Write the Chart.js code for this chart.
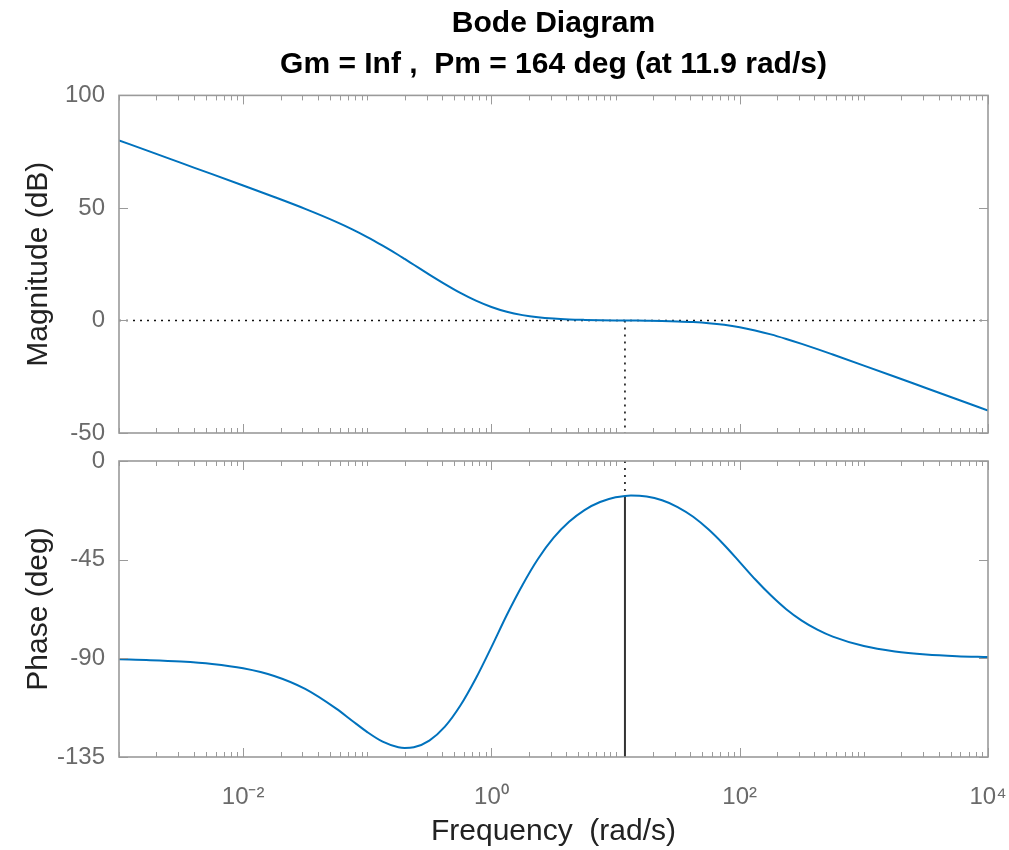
<!DOCTYPE html>
<html>
<head>
<meta charset="utf-8">
<script src="https://cdn.jsdelivr.net/npm/chart.js@4.4.1/dist/chart.umd.min.js"></script>
<style>
  html, body { margin: 0; padding: 0; background: #ffffff; }
  #wrap { position: relative; width: 1009px; height: 850px; background: #ffffff; }
  #c1 { position: absolute; left: 0; top: 0; }
  #c2 { position: absolute; left: 0; top: 440px; }
</style>
</head>
<body>
<div id="wrap">
  <canvas id="c1" width="1009" height="460"></canvas>
  <canvas id="c2" width="1009" height="410"></canvas>
</div>
<script>
// ---------- data ----------
const freq = [0.001, 0.00178, 0.00316, 0.00562, 0.01, 0.0178, 0.0316, 0.0562, 0.075, 0.1,
  0.133, 0.178, 0.2, 0.237, 0.316, 0.422, 0.562, 0.75, 1, 1.33, 1.78, 2.37, 3.16, 4.22, 5.62,
  7.5, 10, 11.9, 13.3, 17.8, 23.7, 31.6, 42.2, 56.2, 75, 100, 133, 178, 237, 316, 422, 562,
  1000, 1780, 3160, 5620, 10000];
const magDb = [80.0, 75.0, 70.0, 65.0, 59.96, 54.87, 49.59, 43.83, 40.61, 37.08,
  33.22, 29.08, 27.33, 24.76, 20.41, 16.18, 12.25, 8.80, 5.98, 3.85, 2.37, 1.41, 0.82, 0.46, 0.26,
  0.13, 0.04, 0.0, -0.03, -0.11, -0.22, -0.41, -0.71, -1.19, -1.94, -3.01, -4.44, -6.19, -8.21, -10.41, -12.74, -15.14,
  -20.04, -25.01, -30.0, -35.0, -40.0];
const phaseDeg = [-90.46, -90.82, -91.45, -92.58, -94.57, -98.05, -103.95, -112.95, -118.33, -123.64,
  -128.02, -130.57, -130.92, -130.59, -127.53, -121.17, -111.54, -99.09, -84.86, -70.21, -56.52, -44.69, -35.10, -27.74, -22.37,
  -18.72, -16.56, -15.92, -15.75, -16.20, -17.93, -20.99, -25.45, -31.29, -38.31, -46.09, -53.95, -61.25, -67.59, -72.79, -76.92, -80.11,
  -84.40, -86.84, -88.22, -89.00, -89.44];

const freqRange = [0.001, 10000];
const magRange = [-50, 100];
const phaseRange = [-135, 0];
const xLabelTicks = [0.01, 1, 100, 10000];
const xTickLabels = ['10\u207B\u00B2', '10\u2070', '10\u00B2', '10\u2074'];
const magTicks = [-50, 0, 50, 100];
const phaseTicks = [-135, -90, -45, 0];

const crossFreq = [11.9];          // gain crossover (rad/s)
const zeroDbLine = [0, 0];         // 0 dB reference
const pmPhase = [-15.92];          // phase at crossover

const titleLines = ['Bode Diagram', 'Gm = Inf ,  Pm = 164 deg (at 11.9 rad/s)'];
const xTitle = 'Frequency  (rad/s)';
const magTitle = 'Magnitude (dB)';
const phaseTitle = 'Phase (deg)';

// ---------- styles ----------
const FONT = "'Liberation Sans', Arial, Helvetica, sans-serif";
const BLUE = '#0072BD';
const FRAME = '#9a9a9a';
const TICKTXT = '#6a6a6a';
const LABELTXT = '#222222';

// inward MATLAB-style ticks and full box, positions from Chart.js scales
const boxTicks = {
  id: 'boxTicks',
  afterDatasetsDraw(chart, args, opts) {
    const {ctx, chartArea: a, scales} = chart;
    const xs = scales.x, ys = scales.y;
    ctx.save();
    ctx.strokeStyle = FRAME;
    ctx.lineWidth = 1;
    ctx.beginPath();
    for (let d = -3; d <= 4; d++) {
      for (let m = 1; m <= 9; m++) {
        const v = m * Math.pow(10, d);
        if (v < freqRange[0] * 0.999 || v > freqRange[1] * 1.001) continue;
        const px = Math.round(xs.getPixelForValue(v)) + 0.5;
        const major = (m === 1 && xLabelTicks.some(t => Math.abs(t - v) / t < 1e-6));
        const len = major ? 9 : 5;
        ctx.moveTo(px, a.top); ctx.lineTo(px, a.top + len);
        ctx.moveTo(px, a.bottom); ctx.lineTo(px, a.bottom - len);
      }
    }
    (opts.yTicks || []).forEach(v => {
      const py = Math.round(ys.getPixelForValue(v)) + 0.5;
      ctx.moveTo(a.left, py); ctx.lineTo(a.left + 9, py);
      ctx.moveTo(a.right, py); ctx.lineTo(a.right - 9, py);
    });
    ctx.stroke();
    ctx.lineWidth = 1.6;
    ctx.strokeRect(a.left, a.top, a.right - a.left, a.bottom - a.top);
    ctx.restore();
  }
};

function xScale(showLabels) {
  return {
    type: 'logarithmic',
    min: freqRange[0], max: freqRange[1],
    grid: { display: false },
    border: { display: false },
    afterBuildTicks: s => { s.ticks = xLabelTicks.map(v => ({ value: v })); },
    ticks: {
      display: showLabels,
      autoSkip: false,
      maxRotation: 0,
      padding: 18,
      color: TICKTXT,
      font: { family: FONT, size: 24 },
      callback: (v) => { const i = xLabelTicks.findIndex(t => Math.abs(t - v) / t < 1e-6); return i >= 0 ? xTickLabels[i] : ''; }
    },
    title: showLabels ? { display: true, text: xTitle, color: LABELTXT, font: { family: FONT, size: 30 }, padding: { top: 0, bottom: 0 } } : { display: false },
    afterFit: s => { s.height = showLabels ? 93 : 0; s.paddingLeft = 0; s.paddingRight = 0; }
  };
}

function yScale(range, ticks, title) {
  return {
    type: 'linear',
    min: range[0], max: range[1],
    grid: { display: false },
    border: { display: false },
    afterBuildTicks: s => { s.ticks = ticks.map(v => ({ value: v })); },
    ticks: { color: TICKTXT, padding: 6, font: { family: FONT, size: 24 } },
    title: { display: true, text: title, color: LABELTXT, font: { family: FONT, size: 30 }, padding: { top: 21, bottom: 0 } },
    afterFit: s => { s.width = 119; s.paddingTop = 0; s.paddingBottom = 0; }
  };
}

const lineDefaults = { pointRadius: 0, pointHoverRadius: 0, fill: false };

new Chart(document.getElementById('c1'), {
  type: 'line',
  data: {
    datasets: [
      Object.assign({ label: 'Magnitude', data: freq.map((f, i) => ({ x: f, y: magDb[i] })), borderColor: BLUE, borderWidth: 2, cubicInterpolationMode: 'monotone' }, lineDefaults),
      Object.assign({ label: '0 dB', data: freqRange.map((f, i) => ({ x: f, y: zeroDbLine[i] })), borderColor: '#111111', borderWidth: 1.6, borderDash: [2, 5] }, lineDefaults),
      Object.assign({ label: 'wc', data: [{ x: crossFreq[0], y: zeroDbLine[0] }, { x: crossFreq[0], y: magRange[0] }], borderColor: '#111111', borderWidth: 1.6, borderDash: [2, 5] }, lineDefaults)
    ]
  },
  options: {
    responsive: false, animation: false, devicePixelRatio: 1,
    layout: { padding: { left: 0, right: 21, top: 0, bottom: 27 } },
    plugins: {
      legend: { display: false }, tooltip: { enabled: false },
      title: { display: true, fullSize: false, text: titleLines, color: '#000000', font: { family: FONT, size: 30, weight: 'bold', lineHeight: 1.34 }, padding: { top: 4, bottom: 11 } },
      boxTicks: { yTicks: magTicks }
    },
    scales: { x: xScale(false), y: yScale(magRange, magTicks, magTitle) }
  },
  plugins: [boxTicks]
});

new Chart(document.getElementById('c2'), {
  type: 'line',
  data: {
    datasets: [
      Object.assign({ label: 'Phase', data: freq.map((f, i) => ({ x: f, y: phaseDeg[i] })), borderColor: BLUE, borderWidth: 2, cubicInterpolationMode: 'monotone' }, lineDefaults),
      Object.assign({ label: 'pm dotted', data: [{ x: crossFreq[0], y: phaseRange[1] }, { x: crossFreq[0], y: pmPhase[0] }], borderColor: '#111111', borderWidth: 1.6, borderDash: [2, 5] }, lineDefaults),
      Object.assign({ label: 'pm', data: [{ x: crossFreq[0], y: pmPhase[0] }, { x: crossFreq[0], y: phaseRange[0] }], borderColor: '#333333', borderWidth: 2 }, lineDefaults)
    ]
  },
  options: {
    responsive: false, animation: false, devicePixelRatio: 1,
    layout: { padding: { left: 0, right: 21, top: 21, bottom: 0 } },
    plugins: {
      legend: { display: false }, tooltip: { enabled: false }, title: { display: false },
      boxTicks: { yTicks: phaseTicks }
    },
    scales: { x: xScale(true), y: yScale(phaseRange, phaseTicks, phaseTitle) }
  },
  plugins: [boxTicks]
});
</script>
</body>
</html>
